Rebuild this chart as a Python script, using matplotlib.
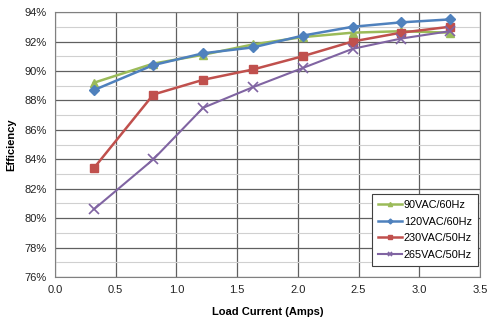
import matplotlib.pyplot as plt
from matplotlib.ticker import MultipleLocator, FuncFormatter

load = [0.32, 0.81, 1.22, 1.63, 2.04, 2.45, 2.85, 3.25]
eff_90 = [89.2, 90.5, 91.1, 91.8, 92.3, 92.6, 92.7, 92.6]
eff_120 = [88.7, 90.4, 91.2, 91.6, 92.4, 93.0, 93.3, 93.5]
eff_230 = [83.4, 88.4, 89.4, 90.1, 91.0, 92.0, 92.6, 93.0]
eff_265 = [80.6, 84.0, 87.5, 88.9, 90.2, 91.5, 92.2, 92.7]
labels = ['90VAC/60Hz', '120VAC/60Hz', '230VAC/50Hz', '265VAC/50Hz']

plt.rcParams['font.family'] = ['Liberation Sans', 'DejaVu Sans']
fig = plt.figure(figsize=(5, 3.26), dpi=100)
ax = fig.add_axes([0.11, 0.15, 0.85, 0.813])

ax.plot(load, eff_90, color='#9bbb59', marker='^', ms=6, lw=1.8, label=labels[0], zorder=3)
ax.plot(load, eff_120, color='#4f81bd', marker='D', ms=5, lw=1.8, label=labels[1], zorder=4)
ax.plot(load, eff_230, color='#c0504d', marker='s', ms=6, lw=1.8, label=labels[2], zorder=3)
ax.plot(load, eff_265, color='#8064a2', marker='x', ms=7, mew=1.2, lw=1.5, label=labels[3], zorder=3)

ax.set_xlim(0, 3.5)
ax.set_ylim(76, 94)
ax.xaxis.set_major_locator(MultipleLocator(0.5))
ax.yaxis.set_major_locator(MultipleLocator(2))
ax.yaxis.set_minor_locator(MultipleLocator(1))
ax.xaxis.set_major_formatter(FuncFormatter(lambda v, p: '%.1f' % v))
ax.yaxis.set_major_formatter(FuncFormatter(lambda v, p: '%d%%' % v))
ax.grid(which='major', color='#606060', lw=0.9)
ax.grid(which='minor', axis='y', color='#d0d0d0', lw=0.8)
ax.set_axisbelow(True)
ax.tick_params(which='both', length=0, labelsize=8, colors='#222222', pad=6)
for s in ax.spines.values():
    s.set_color('#808080')

ax.set_xlabel('Load Current (Amps)', fontsize=8, fontweight='bold', labelpad=8)
ax.set_ylabel('Efficiency', fontsize=8, fontweight='bold', labelpad=6)

leg = ax.legend(loc='lower right', fontsize=7.8, handlelength=2.2, markerscale=0.5,
                fancybox=False, framealpha=1, edgecolor='#404040',
                borderpad=0.55, labelspacing=0.6, handletextpad=0.2,
                borderaxespad=0.2, bbox_to_anchor=(1.0, 0.035))
leg.get_frame().set_linewidth(0.8)

fig.savefig('out.png', dpi=100)
